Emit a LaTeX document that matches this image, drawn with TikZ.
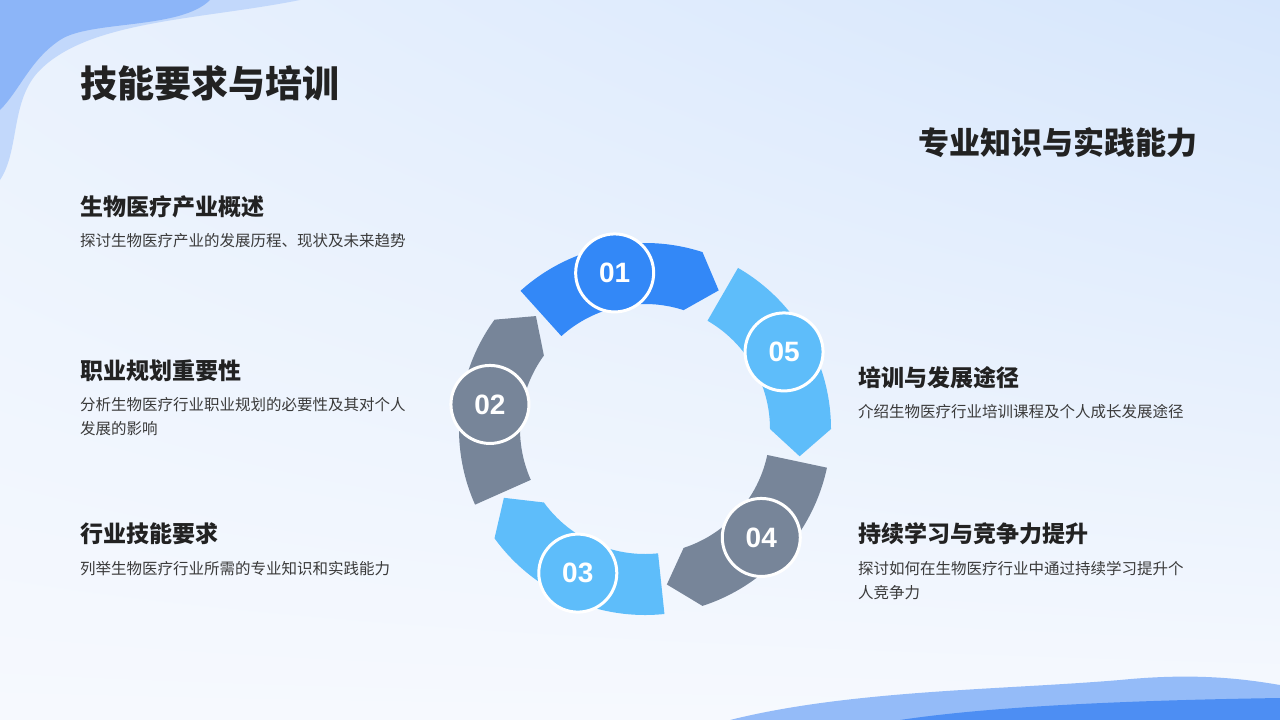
\documentclass[tikz,border=0pt]{standalone}
\usepackage{fontspec}
\newfontfamily\cjk{Noto Sans CJK SC}
\newfontfamily\numfont{Liberation Sans}
\usetikzlibrary{positioning,shadings}
\definecolor{cdeep}{HTML}{3388F7}
\definecolor{clight}{HTML}{5EBDFA}
\definecolor{cgray}{HTML}{778599}
\definecolor{ctext}{HTML}{222222}
\definecolor{cdesc}{HTML}{3A3A3A}
\definecolor{bgtop}{HTML}{D6E6FC}
\definecolor{bgbot}{HTML}{F6F9FE}
\definecolor{blobA}{HTML}{C2D8FB}
\definecolor{blobB}{HTML}{8CB5F8}
\definecolor{wave}{HTML}{4D8EF3}
\tikzset{
  head/.style={anchor=west,font=\cjk\bfseries\fontsize{23}{27}\selectfont,text=ctext,inner sep=0},
  desc/.style={anchor=north west,align=left,font=\cjk\fontsize{15.5}{24}\selectfont,text=cdesc,inner sep=0},
  badge/.style={circle,draw=white,line width=3pt,minimum size=78pt,inner sep=0,text=white,font=\numfont\bfseries\fontsize{28}{30}\selectfont}
}
\newcommand{\ringseg}[2]{%
  \fill[#2] (#1:186) arc[start angle=#1,end angle=#1-60,radius=186]
    -- (#1-70:157) -- (#1-60:125) arc[start angle=#1-60,end angle=#1,radius=125] -- cycle;}
\begin{document}
\begin{tikzpicture}[x=1pt,y=-1pt]
\useasboundingbox (0,0) rectangle (1280,720);
% background
\shade[upper right=bgtop,upper left=bgbot!60!bgtop,lower left=bgbot,lower right=bgbot] (0,0) rectangle (1280,720);
\fill[blobA] (0,0) -- (300,0) .. controls (200,20) and (90,20) .. (40,70) .. controls (10,100) and (20,150) .. (0,180) -- cycle;
\fill[blobB] (0,0) -- (210,0) .. controls (180,30) and (90,20) .. (60,40) .. controls (30,60) and (20,90) .. (0,110) -- cycle;
\fill[wave!60!white] (730,720) .. controls (850,690) and (1000,690) .. (1120,680) .. controls (1200,672) and (1250,680) .. (1280,685) -- (1280,720) -- cycle;
\fill[wave] (900,720) .. controls (1000,705) and (1150,700) .. (1280,698) -- (1280,720) -- cycle;
% titles
\node[anchor=west,inner sep=0,font=\cjk\bfseries\fontsize{37}{42}\selectfont,text=ctext] (title) at (80,83) {技能要求与培训};
\node[anchor=east,inner sep=0,font=\cjk\bfseries\fontsize{31}{36}\selectfont,text=ctext] (sub) at (1198,143) {专业知识与实践能力};
% items
\node[head] (h1) at (80,207) {生物医疗产业概述};
\node[desc] (d1) at (80,233) {探讨生物医疗产业的发展历程、现状及未来趋势};
\node[head] (h2) at (80,371) {职业规划重要性};
\node[desc] (d2) at (80,397) {分析生物医疗行业职业规划的必要性及其对个人\\发展的影响};
\node[head] (h3) at (80,534) {行业技能要求};
\node[desc] (d3) at (80,561) {列举生物医疗行业所需的专业知识和实践能力};
\node[head] (h5) at (858,378) {培训与发展途径};
\node[desc] (d5) at (858,404) {介绍生物医疗行业培训课程及个人成长发展途径};
\node[head] (h4) at (858,534) {持续学习与竞争力提升};
\node[desc] (d4) at (858,561) {探讨如何在生物医疗行业中通过持续学习提升个\\人竞争力};
% ring
\begin{scope}[shift={(645,429)},yscale=-1]
  \ringseg{132}{cdeep}
  \ringseg{60}{clight}
  \ringseg{-12}{cgray}
  \ringseg{-84}{clight}
  \ringseg{-156}{cgray}
  \node[badge,fill=cdeep] (n1) at (101:159) {01};
  \node[badge,fill=cgray] (n2) at (171:157) {02};
  \node[badge,fill=clight] (n3) at (245:159) {03};
  \node[badge,fill=cgray] (n4) at (317:159) {04};
  \node[badge,fill=clight] (n5) at (29:159) {05};
\end{scope}
\end{tikzpicture}
\end{document}
